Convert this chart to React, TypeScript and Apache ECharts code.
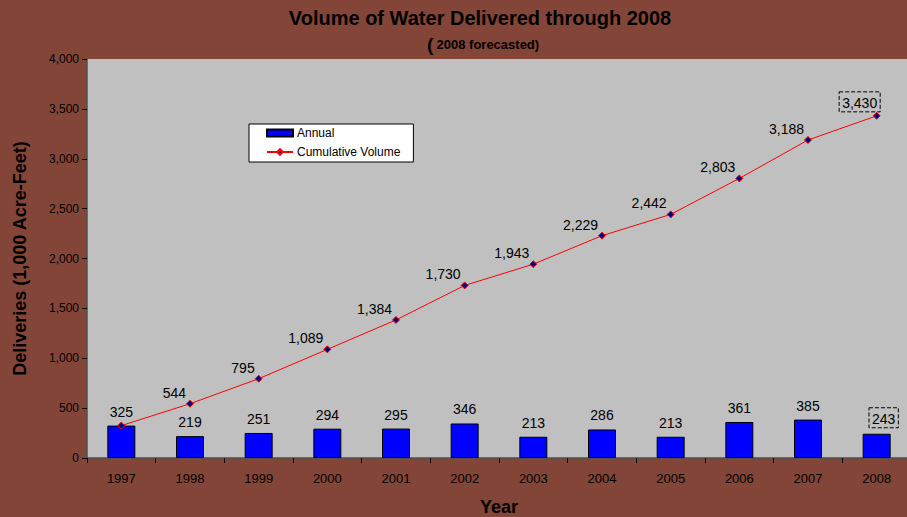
import React, { useEffect, useRef } from "react";
import * as echarts from "echarts";

const years = ["1997", "1998", "1999", "2000", "2001", "2002", "2003", "2004", "2005", "2006", "2007", "2008"];
const annual = [325, 219, 251, 294, 295, 346, 213, 286, 213, 361, 385, 243];
const cumulative = [325, 544, 795, 1089, 1384, 1730, 1943, 2229, 2442, 2803, 3188, 3430];
const yTicks = [0, 500, 1000, 1500, 2000, 2500, 3000, 3500, 4000];

const FONT = "Liberation Sans, Arial, sans-serif";
const fmt = (v: number) => v.toLocaleString("en-US");

export default function App() {
  const ref = useRef<HTMLDivElement>(null);
  useEffect(() => {
    document.body.style.margin = "0";
    if (!ref.current) return;
    const chart = echarts.init(ref.current, undefined, { renderer: "svg" });
    const last = years.length - 1;
    const barData = annual.map((v, i) =>
      i === last
        ? {
            value: v,
            label: {
              offset: [7, 0],
              distance: 6,
              borderType: "dashed",
              borderColor: "#000",
              borderWidth: 1,
              padding: [4, 3, 2, 3],
            },
          }
        : { value: v }
    );
    const lineData = cumulative.map((v, i) => {
      if (i === 0) return { value: v, label: { show: false } };
      if (i === last)
        return {
          value: v,
          label: {
            position: "top",
            distance: 0,
            offset: [-17, 0],
            borderType: "dashed",
            borderColor: "#000",
            borderWidth: 1,
            padding: [4, 3, 2, 3],
          },
        };
      return { value: v };
    });
    chart.setOption({
      animation: false,
      backgroundColor: "#834538",
      textStyle: { fontFamily: FONT },
      graphic: [
        {
          type: "text",
          x: 480,
          y: 18,
          style: {
            text: "Volume of Water Delivered through 2008",
            font: `bold 20px ${FONT}`,
            fill: "#000",
            align: "center",
            verticalAlign: "middle",
          },
        },
        {
          type: "text",
          x: 483,
          y: 44,
          style: {
            text: "{p|(} {t|2008 forecasted)}",
            fill: "#000",
            align: "center",
            verticalAlign: "middle",
            rich: {
              p: { font: `bold 19px ${FONT}`, fill: "#000" },
              t: { font: `bold 13px ${FONT}`, fill: "#000" },
            },
          },
        },
      ],
      legend: {
        left: 249,
        top: 124,
        orient: "vertical",
        backgroundColor: "#fff",
        borderColor: "#000",
        borderWidth: 1,
        borderRadius: 0,
        padding: [3, 13, 4, 17],
        itemGap: 7,
        itemWidth: 26,
        itemHeight: 7,
        textStyle: { fontFamily: FONT, fontSize: 12, color: "#000", padding: [0, 0, 0, -1] },
        data: [{ name: "Annual", icon: "rect" }, { name: "Cumulative Volume" }],
      },
      grid: {
        left: 87,
        top: 59,
        bottom: 59,
        right: -4,
        outerBoundsMode: "none",
        containLabel: false,
        show: true,
        backgroundColor: "#C0C0C0",
        borderWidth: 0,
      },
      xAxis: {
        type: "category",
        data: years,
        name: "Year",
        nameLocation: "middle",
        nameGap: 40,
        nameTextStyle: { fontFamily: FONT, fontSize: 18, fontWeight: "bold", color: "#000" },
        axisLine: { lineStyle: { color: "#505050", width: 1.5 } },
        axisTick: { show: true, length: 5, lineStyle: { color: "#000" } },
        axisLabel: { fontFamily: FONT, fontSize: 13, color: "#000", margin: 14 },
      },
      yAxis: {
        type: "value",
        min: 0,
        max: 4000,
        interval: 500,
        name: "Deliveries (1,000 Acre-Feet)",
        nameLocation: "middle",
        nameGap: 58,
        nameTextStyle: { fontFamily: FONT, fontSize: 18, fontWeight: "bold", color: "#000" },
        splitLine: { show: false },
        axisLine: { show: true, lineStyle: { color: "#505050", width: 1.5 } },
        axisTick: { show: true, length: 5, lineStyle: { color: "#000" } },
        axisLabel: {
          fontFamily: FONT,
          fontSize: 12,
          color: "#000",
          margin: 8,
          formatter: (v: number) => (yTicks.includes(v) ? fmt(v) : ""),
        },
      },
      series: [
        {
          name: "Annual",
          type: "bar",
          data: barData,
          barWidth: 28,
          itemStyle: { color: "#0000FF", borderColor: "#000", borderWidth: 1 },
          label: {
            show: true,
            position: "top",
            distance: 7,
            fontFamily: FONT,
            fontSize: 14,
            color: "#000",
            formatter: (p: any) => fmt(p.value),
          },
          z: 2,
        },
        {
          name: "Cumulative Volume",
          type: "line",
          data: lineData,
          symbol: "diamond",
          symbolSize: 7,
          lineStyle: { color: "#FF0000", width: 1 },
          itemStyle: { color: "#000080", borderColor: "#FF0000", borderWidth: 1 },
          label: {
            show: true,
            position: "left",
            distance: 0,
            offset: [0, -11],
            fontFamily: FONT,
            fontSize: 14,
            color: "#000",
            formatter: (p: any) => fmt(p.value),
          },
          z: 3,
        },
      ],
    });
    return () => chart.dispose();
  }, []);
  return <div ref={ref} style={{ width: 907, height: 517 }} />;
}
